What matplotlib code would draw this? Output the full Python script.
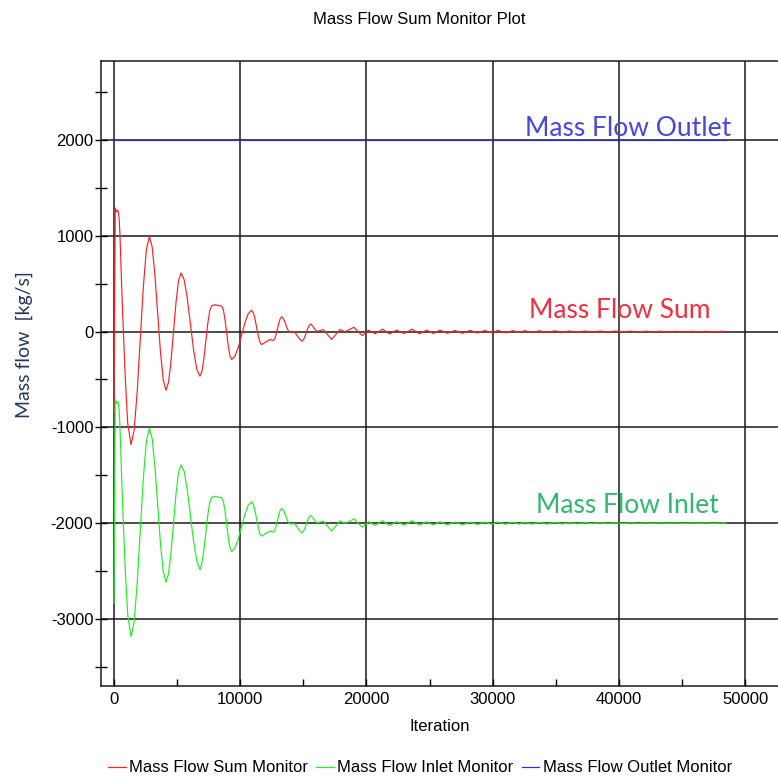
#!/usr/bin/env python3
"""Mass flow monitor plot recreated from a solver screenshot."""

import matplotlib

matplotlib.use("Agg")
import matplotlib.pyplot as plt
from matplotlib import font_manager
from matplotlib.ticker import MultipleLocator

# iteration positions of the read-off points (sum and inlet share them)
iterations = [
    0, 100, 200, 300, 400, 475, 600, 740, 900, 1080, 1350,
    1592, 1833, 2075, 2317, 2558, 2800,
    3020, 3240, 3460, 3680, 3900, 4120,
    4318, 4517, 4715, 4913, 5112, 5310,
    5560, 5810, 6060, 6310, 6560, 6810,
    6965, 7120, 7275, 7430, 7585, 7740, 8000, 8530,
    8662, 8793, 8925, 9057, 9188, 9320,
    9583, 9847, 10110, 10373, 10637, 10900,
    11033, 11167, 11300, 11433, 11567, 11700,
    12000, 12360, 12620,
    12730, 12840, 12950, 13060, 13170, 13280,
    13390, 13500, 13610, 13720, 13830, 13940,
    14330, 14600, 14870,
    14992, 15113, 15235, 15357, 15478, 15600,
    15830, 16050, 16300, 16580, 16900, 17240, 17570, 17900, 18100, 18300,
    18650, 19010, 19340, 19670,
    20140, 20700, 21280, 21830, 22390, 23000, 23620, 24200, 24760, 25300,
    25820, 26400, 27010, 27600, 28200, 28800, 29380, 29900, 30410, 31000,
    31600, 32100, 32550, 33100, 33700, 34300, 34900, 35500, 36100, 36700,
    37300, 37900, 38500, 39100, 39700, 40300, 40900, 41500, 42100, 42700,
    43300, 43900, 44500, 45100, 45700, 46300, 46900, 47500, 48100, 48500,
]
mass_flow_sum = [
    -850, 1290, 1250, 1270, 1200, 1000, 500, 0, -500, -950, -1180,
    -1034, -636, -92, 451, 849, 995,
    887, 593, 191, -210, -504, -612,
    -530, -306, 0, 306, 530, 612,
    540, 343, 73, -197, -394, -466,
    -417, -283, -99, 85, 219, 268, 280, 266,
    229, 127, -13, -153, -255, -292,
    -258, -163, -35, 93, 188, 222,
    198, 133, 43, -47, -112, -136,
    -110, -83, -93,
    -76, -31, 30, 91, 136, 153,
    142, 113, 73, 33, 4, -7,
    -7, -60, -101,
    -88, -55, -10, 35, 68, 80,
    40, 3, 10, 21, -30, -83, -30, 21, 10, -2,
    20, 45, 0, -42,
    15, -22, 25, -25, 15, -20, 25, -22, 15, -20,
    15, -18, 12, -18, 12, -15, 12, -12, 12, -12,
    10, -10, 10, -10, 8, -10, 8, -8, 6, -8,
    6, -6, 5, -6, 5, -5, 4, -5, 4, -4,
    4, -4, 3, -4, 3, -3, 3, -3, 2, 0,
]
mass_flow_inlet = [
    -2836, -707, -750, -730, -800, -1000, -1500, -2000, -2500, -2950, -3185,
    -3034, -2636, -2092, -1549, -1151, -1009,
    -1113, -1407, -1809, -2210, -2504, -2617,
    -2530, -2306, -2000, -1694, -1470, -1392,
    -1460, -1657, -1927, -2197, -2394, -2488,
    -2417, -2283, -2099, -1915, -1781, -1733, -1720, -1735,
    -1771, -1873, -2013, -2153, -2255, -2297,
    -2258, -2163, -2035, -1907, -1812, -1778,
    -1802, -1867, -1957, -2047, -2112, -2136,
    -2110, -2083, -2093,
    -2076, -2031, -1970, -1909, -1864, -1847,
    -1858, -1887, -1927, -1967, -1996, -2007,
    -2007, -2060, -2101,
    -2088, -2055, -2010, -1965, -1932, -1920,
    -1960, -1997, -1990, -1979, -2030, -2083, -2030, -1979, -1990, -2002,
    -1980, -1955, -2000, -2042,
    -1985, -2022, -1975, -2025, -1985, -2020, -1975, -2022, -1985, -2020,
    -1985, -2018, -1988, -2018, -1988, -2015, -1988, -2012, -1988, -2012,
    -1990, -2010, -1990, -2010, -1992, -2010, -1992, -2008, -1994, -2008,
    -1994, -2006, -1995, -2006, -1995, -2005, -1996, -2005, -1996, -2004,
    -1996, -2004, -1997, -2004, -1997, -2003, -1997, -2003, -1998, -2000,
]
outlet_iterations = [0, 48500]
mass_flow_outlet = [2000, 2000]

series_names = ["Mass Flow Sum Monitor", "Mass Flow Inlet Monitor", "Mass Flow Outlet Monitor"]
tags = ["Mass Flow Sum", "Mass Flow Inlet", "Mass Flow Outlet"]


def pick_font(*names):
    installed = {f.name for f in font_manager.fontManager.ttflist}
    return [n for n in names if n in installed] + ["DejaVu Sans"]


def main() -> None:
    ui_font = pick_font("Liberation Sans Narrow", "Liberation Sans")
    tag_font = pick_font("Lato", "Open Sans")
    plt.rcParams["font.family"] = ui_font
    plt.rcParams["axes.unicode_minus"] = False

    fig = plt.figure(figsize=(7.78, 7.76), dpi=100)
    ax = fig.add_axes([101 / 778, 90 / 776, 677 / 778, 625 / 776])

    ax.plot(iterations, mass_flow_sum, color="#ff2020", lw=0.85, label=series_names[0])
    ax.plot(iterations, mass_flow_inlet, color="#20f020", lw=0.85, label=series_names[1])
    ax.plot(outlet_iterations, mass_flow_outlet, color="#2a2aff", lw=0.85, label=series_names[2])

    ax.set_xlim(-1030, 52600)
    ax.set_ylim(-3700, 2825)
    ax.xaxis.set_major_locator(MultipleLocator(10000))
    ax.xaxis.set_minor_locator(MultipleLocator(5000))
    ax.yaxis.set_major_locator(MultipleLocator(1000))
    ax.yaxis.set_minor_locator(MultipleLocator(500))
    ax.grid(True, which="major", color="#1a1a1a", lw=1.1)
    ax.set_axisbelow(True)
    ax.tick_params(axis="x", which="both", direction="in", length=5, width=1, labelsize=12, pad=4)
    ax.tick_params(axis="y", which="both", direction="inout", length=8, width=1, labelsize=12, pad=1.5)
    ax.spines["right"].set_visible(False)
    for side in ("left", "top", "bottom"):
        ax.spines[side].set_color("#1a1a1a")
        ax.spines[side].set_linewidth(1.1)

    ax.set_xlabel("Iteration", fontsize=12, labelpad=9)
    ax.set_ylabel("Mass flow  [kg/s]", fontsize=14, color="#24365a", family=tag_font)
    ax.yaxis.set_label_coords(-0.1, 0.546)
    fig.text(419 / 778, 1 - 20 / 776, "Mass Flow Sum Monitor Plot", ha="center", va="center", fontsize=12)

    ax.text(40700, 2042, tags[2], color="#4646e0", fontsize=19, family=tag_font, ha="center", va="baseline")
    ax.text(40080, 142, tags[0], color="#f03040", fontsize=19, family=tag_font, ha="center", va="baseline")
    ax.text(40630, -1893, tags[1], color="#30b870", fontsize=19, family=tag_font, ha="center", va="baseline")

    fig.legend(loc="center", bbox_to_anchor=(420 / 778, 1 - 768 / 776), ncol=3, frameon=False,
               fontsize=12, handlelength=1.05, handletextpad=0.2, columnspacing=0.5)

    fig.savefig("out.png", dpi=100)
    plt.close(fig)


if __name__ == "__main__":
    main()
